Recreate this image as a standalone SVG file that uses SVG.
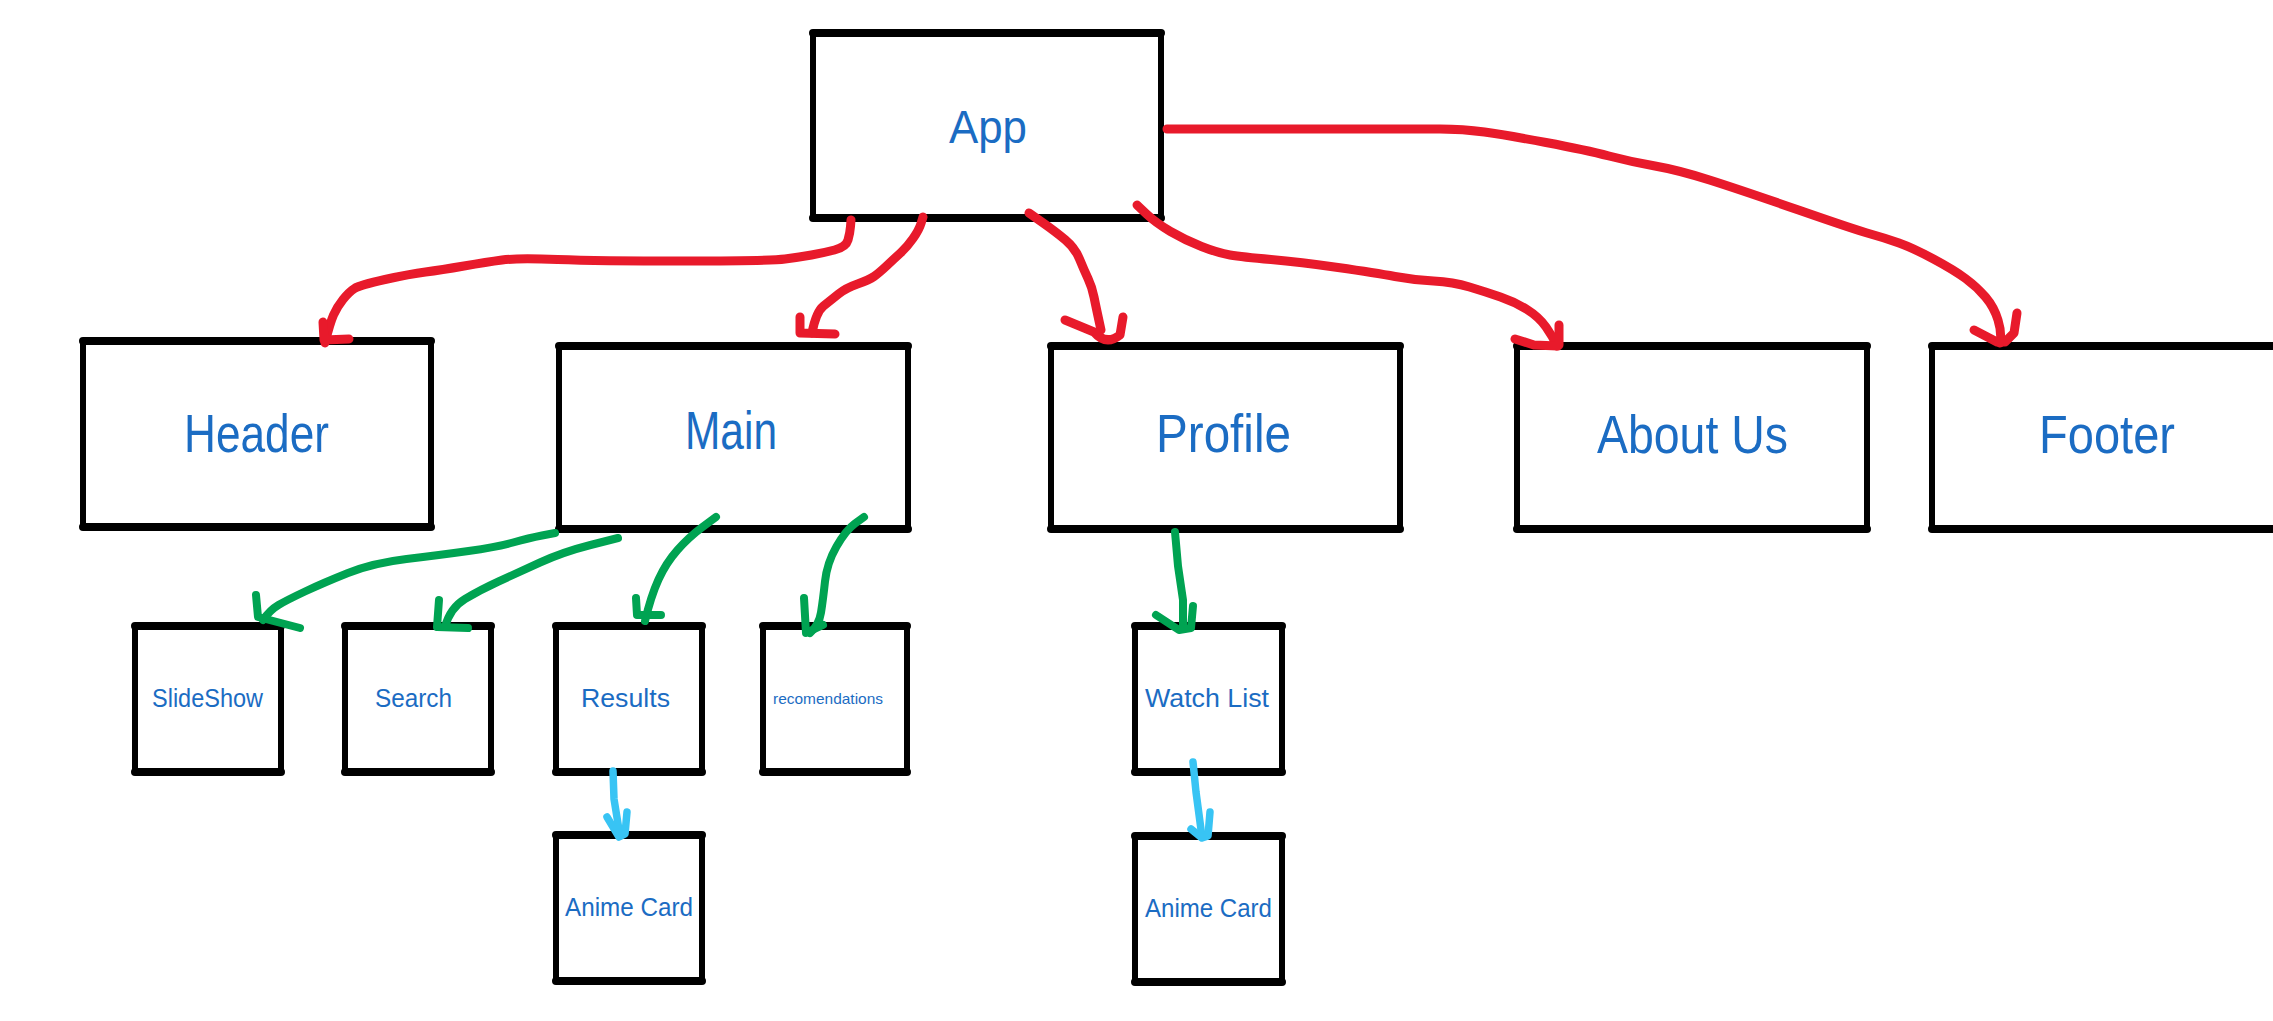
<svg xmlns="http://www.w3.org/2000/svg" width="2273" height="1021" viewBox="0 0 2273 1021">
<style>
.box{fill:#ffffff;stroke:#000000;stroke-width:6;stroke-linejoin:round}
.edge{fill:none;stroke:#000000;stroke-width:8;stroke-linecap:round}
.lbl{font-family:"Liberation Sans Narrow","Liberation Sans",sans-serif;fill:#1b6cc3}
.big{font-size:54px}
.sm{font-size:25px}
.xs{font-size:15px}
.red{fill:none;stroke:#e81a2b;stroke-width:9;stroke-linecap:round;stroke-linejoin:round}
.green{fill:none;stroke:#00a352;stroke-width:8;stroke-linecap:round;stroke-linejoin:round}
.blue{fill:none;stroke:#38c4f4;stroke-width:7.5;stroke-linecap:round;stroke-linejoin:round}
</style>
<rect width="2273" height="1021" fill="#ffffff"/>
<g id="app">
<rect class="box" x="813" y="33" width="348" height="185"/>
<path class="edge" d="M813,33 H1161 M813,218 H1161"/>
<text class="lbl" x="949" y="143" font-size="46" textLength="78" lengthAdjust="spacingAndGlyphs">App</text>
</g>
<g id="header">
<rect class="box" x="83" y="341" width="348" height="186"/>
<path class="edge" d="M83,341 H431 M83,527 H431"/>
<text class="lbl big" x="184" y="452" textLength="145" lengthAdjust="spacingAndGlyphs">Header</text>
</g>
<g id="main">
<rect class="box" x="559" y="346" width="349" height="183"/>
<path class="edge" d="M559,346 H908 M559,529 H908"/>
<text class="lbl big" x="685" y="449" textLength="92" lengthAdjust="spacingAndGlyphs">Main</text>
</g>
<g id="profile">
<rect class="box" x="1051" y="346" width="349" height="183"/>
<path class="edge" d="M1051,346 H1400 M1051,529 H1400"/>
<text class="lbl big" x="1156" y="452" textLength="135" lengthAdjust="spacingAndGlyphs">Profile</text>
</g>
<g id="about">
<rect class="box" x="1517" y="346" width="350" height="183"/>
<path class="edge" d="M1517,346 H1867 M1517,529 H1867"/>
<text class="lbl big" x="1597" y="453" textLength="191" lengthAdjust="spacingAndGlyphs">About Us</text>
</g>
<g id="footer">
<rect class="box" x="1932" y="346" width="360" height="183"/>
<path class="edge" d="M1932,346 H2292 M1932,529 H2292"/>
<text class="lbl big" x="2039" y="453" textLength="136" lengthAdjust="spacingAndGlyphs">Footer</text>
</g>
<g id="slideshow">
<rect class="box" x="135" y="626" width="146" height="146"/>
<path class="edge" d="M135,626 H281 M135,772 H281"/>
<text class="lbl sm" x="152" y="707" textLength="111" lengthAdjust="spacingAndGlyphs">SlideShow</text>
</g>
<g id="search">
<rect class="box" x="345" y="626" width="146" height="146"/>
<path class="edge" d="M345,626 H491 M345,772 H491"/>
<text class="lbl sm" x="375" y="707" textLength="77" lengthAdjust="spacingAndGlyphs">Search</text>
</g>
<g id="results">
<rect class="box" x="556" y="626" width="146" height="146"/>
<path class="edge" d="M556,626 H702 M556,772 H702"/>
<text class="lbl sm" x="581" y="707" textLength="89" lengthAdjust="spacingAndGlyphs">Results</text>
</g>
<g id="recomendations">
<rect class="box" x="763" y="626" width="144" height="146"/>
<path class="edge" d="M763,626 H907 M763,772 H907"/>
<text class="lbl xs" x="773" y="704" textLength="110" lengthAdjust="spacingAndGlyphs">recomendations</text>
</g>
<g id="watchlist">
<rect class="box" x="1135" y="626" width="147" height="146"/>
<path class="edge" d="M1135,626 H1282 M1135,772 H1282"/>
<text class="lbl sm" x="1145" y="707" textLength="124" lengthAdjust="spacingAndGlyphs">Watch List</text>
</g>
<g id="animecard1">
<rect class="box" x="556" y="835" width="146" height="146"/>
<path class="edge" d="M556,835 H702 M556,981 H702"/>
<text class="lbl sm" x="565" y="916" textLength="128" lengthAdjust="spacingAndGlyphs">Anime Card</text>
</g>
<g id="animecard2">
<rect class="box" x="1135" y="836" width="147" height="146"/>
<path class="edge" d="M1135,836 H1282 M1135,982 H1282"/>
<text class="lbl sm" x="1145" y="917" textLength="127" lengthAdjust="spacingAndGlyphs">Anime Card</text>
</g>
<g id="connectors">
<path class="red" d="M851,220 L850.5,226.5 Q850,233 848,240 Q846,247 834.5,250 Q823,253 811.5,255 Q800,257 785,259 Q770,261 684,261 Q598,261 557.5,259.5 Q517,258 502,260 Q487,262 464,266 Q441,270 425.5,272 Q410,274 385,279.5 Q360,285 354.5,288.5 Q349,292 343,299.5 Q337,307 333.5,315 Q330,323 325,343"/>
<path class="red" d="M323,322 L324,340 L349,339"/>
<path class="red" d="M923,217 L921,223.5 Q919,230 913,238.5 Q907,247 901,252.5 Q895,258 887,265.5 Q879,273 874,276.5 Q869,280 857.5,284 Q846,288 838.5,294 Q831,300 823.5,306 Q816,312 812,333"/>
<path class="red" d="M800,317 L800,333 L835,334"/>
<path class="red" d="M1029,213 L1042.5,222.5 Q1056,232 1065.5,240 Q1075,248 1079.5,259 Q1084,270 1088,278.5 Q1092,287 1094,297 Q1096,307 1101,330"/>
<path class="red" d="M1065,320 L1094,332 Q1106,346 1120,335 L1123,317"/>
<path class="red" d="M1137,205 L1146.5,214 Q1156,223 1170.5,231.5 Q1185,240 1201.5,246.5 Q1218,253 1230,255 Q1242,257 1271,259.5 Q1300,262 1338,267.5 Q1376,273 1395,276.5 Q1414,280 1433.5,281 Q1453,282 1469.5,287 Q1486,292 1500.5,297 Q1515,302 1527,309.5 Q1539,317 1546,327 Q1553,337 1557,346"/>
<path class="red" d="M1515,339 L1534,345 L1558,346 M1559,325 L1559,345"/>
<path class="red" d="M1167,129 L1440,129 Q1463,129 1484.5,132 Q1506,135 1546,142.5 Q1586,150 1609,156 Q1632,162 1655,166 Q1678,170 1709.5,180 Q1741,190 1798.5,210 Q1856,230 1870.5,234 Q1885,238 1899,243 Q1913,248 1933.5,259 Q1954,270 1965.5,278.5 Q1977,287 1985.5,297 Q1994,307 1998,320 Q2002,333 2000,343"/>
<path class="red" d="M1974,330 L1997,342 L2005,342 L2014,333 L2017,313"/>
<path class="green" d="M555,533 L542,535.5 Q529,538 513,542.5 Q497,547 468.5,551 Q440,555 406.5,559 Q373,563 348,573 Q323,583 305,591.5 Q287,600 278.5,605 Q270,610 263,620"/>
<path class="green" d="M256,595 L258,617 L300,628"/>
<path class="green" d="M618,538 L590.5,545 Q563,552 540,562.5 Q517,573 498.5,581.5 Q480,590 465,599 Q450,608 445,627"/>
<path class="green" d="M439,600 L437,627 L468,628"/>
<path class="green" d="M716,517 L702.5,527 Q689,537 677.5,550 Q666,563 658.5,579.5 Q651,596 645,621"/>
<path class="green" d="M636,598 L637,615 L661,615"/>
<path class="green" d="M864,517 L855,523.5 Q846,530 836.5,546.5 Q827,563 825,581.5 Q823,600 821,612.5 Q819,625 810,633"/>
<path class="green" d="M804,598 L806,633 L823,625"/>
<path class="green" d="M1175,532 L1178,566 L1183,600 L1183,628"/>
<path class="green" d="M1156,615 L1179,630 L1191,628 L1193,606"/>
<path class="blue" d="M613,771 L614,799 L620,836"/>
<path class="blue" d="M607,817 L619,837 L625,834 L627,812"/>
<path class="blue" d="M1193,762 L1196,792 L1202,837"/>
<path class="blue" d="M1191,829 L1202,838 L1208,836 L1210,812"/>
</g>
</svg>
